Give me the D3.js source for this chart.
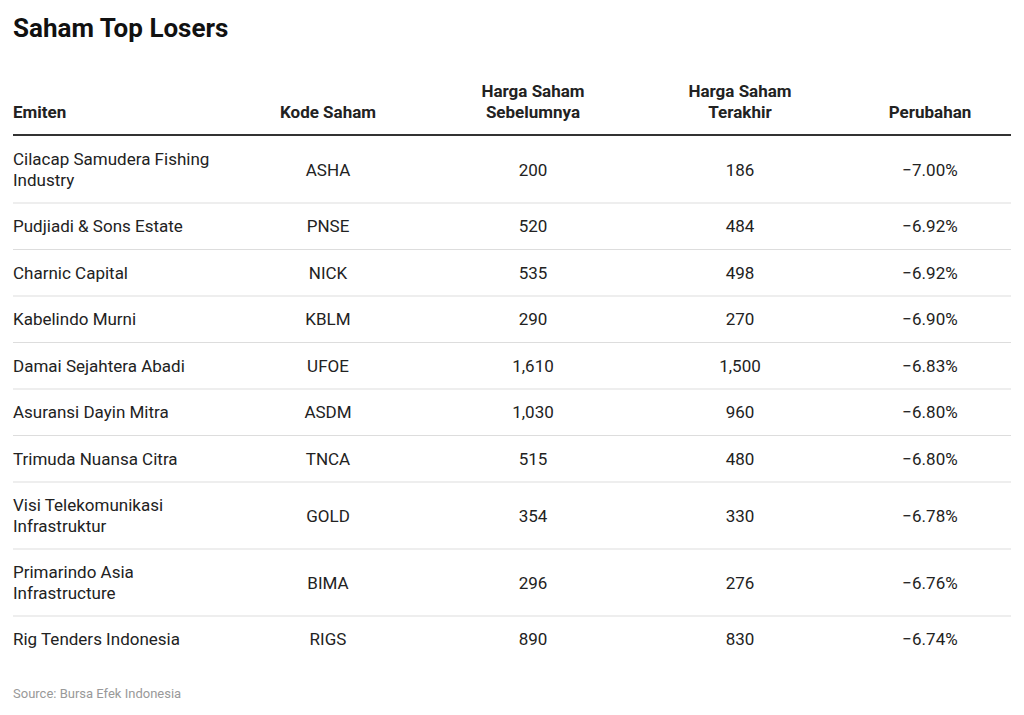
<!DOCTYPE html>
<html>
<head>
<meta charset="utf-8">
<script src="https://cdn.jsdelivr.net/npm/d3@7"></script>
<style>
  body { margin: 0; background: #fff; font-family: Roboto, sans-serif; }
</style>
</head>
<body>
<svg id="chart" width="1024" height="715"></svg>
<script>
const emiten = ['Cilacap Samudera Fishing Industry', 'Pudjiadi & Sons Estate', 'Charnic Capital',
  'Kabelindo Murni', 'Damai Sejahtera Abadi', 'Asuransi Dayin Mitra', 'Trimuda Nuansa Citra',
  'Visi Telekomunikasi Infrastruktur', 'Primarindo Asia Infrastructure', 'Rig Tenders Indonesia'];
const kode = ['ASHA', 'PNSE', 'NICK', 'KBLM', 'UFOE', 'ASDM', 'TNCA', 'GOLD', 'BIMA', 'RIGS'];
const sebelumnya = [200, 520, 535, 290, 1610, 1030, 515, 354, 296, 890];
const terakhir = [186, 484, 498, 270, 1500, 960, 480, 330, 276, 830];
const perubahan = [-7.00, -6.92, -6.92, -6.90, -6.83, -6.80, -6.80, -6.78, -6.76, -6.74];
const headers = [['Emiten'], ['Kode Saham'], ['Harga Saham', 'Sebelumnya'], ['Harga Saham', 'Terakhir'], ['Perubahan']];

const svg = d3.select('#chart');
const left = 13, right = 1011;
const colX = [13, 328, 533, 740, 930];
const anchors = ['start', 'middle', 'middle', 'middle', 'middle'];
const nameWidth = 212;
const lineH = 21;
const fmt = d3.format(',');
const pct = v => d3.format('.2f')(v).replace('-', '\u2212') + '%';

svg.append('text').attr('x', left).attr('y', 37)
  .attr('font-size', 26).attr('font-weight', 700).attr('fill', '#111')
  .text('Saham Top Losers');

// headers
headers.forEach((h, i) => {
  const t = svg.append('text').attr('x', colX[i]).attr('text-anchor', anchors[i])
    .attr('font-size', 17).attr('font-weight', 700).attr('fill', '#222');
  h.forEach((line, j) => {
    t.append('tspan').attr('x', colX[i]).attr('y', 118 - (h.length - 1 - j) * lineH).text(line);
  });
});
svg.append('line').attr('x1', left).attr('x2', right).attr('y1', 135).attr('y2', 135)
  .attr('stroke', '#333').attr('stroke-width', 2);

// wrap names
const measure = svg.append('text').attr('font-size', 17).attr('visibility', 'hidden');
function wrap(str) {
  const words = str.split(' ');
  const lines = [];
  let cur = '';
  words.forEach(w => {
    const test = cur ? cur + ' ' + w : w;
    measure.text(test);
    if (measure.node().getComputedTextLength() > nameWidth && cur) {
      lines.push(cur); cur = w;
    } else cur = test;
  });
  lines.push(cur);
  return lines;
}

let y = 136;
emiten.forEach((name, i) => {
  const lines = wrap(name);
  const h = lines.length > 1 ? 67 : 46.5;
  const mid = y + h / 2;
  const g = svg.append('g').attr('font-size', 17).attr('fill', '#222');
  const t = g.append('text').attr('x', colX[0]);
  lines.forEach((l, j) => {
    t.append('tspan').attr('x', colX[0])
      .attr('y', mid + 6 + (j - (lines.length - 1) / 2) * lineH).text(l);
  });
  const vals = [kode[i], fmt(sebelumnya[i]), fmt(terakhir[i]), pct(perubahan[i])];
  vals.forEach((v, k) => {
    g.append('text').attr('x', colX[k + 1]).attr('y', mid + 6)
      .attr('text-anchor', 'middle').text(v);
  });
  y += h;
  if (i < emiten.length - 1) {
    svg.append('line').attr('x1', left).attr('x2', right).attr('y1', y).attr('y2', y)
      .attr('stroke', '#ddd').attr('stroke-width', 1);
  }
});
measure.remove();

svg.append('text').attr('x', left).attr('y', 698)
  .attr('font-size', 13).attr('fill', '#999').text('Source: Bursa Efek Indonesia');
</script>
</body>
</html>
